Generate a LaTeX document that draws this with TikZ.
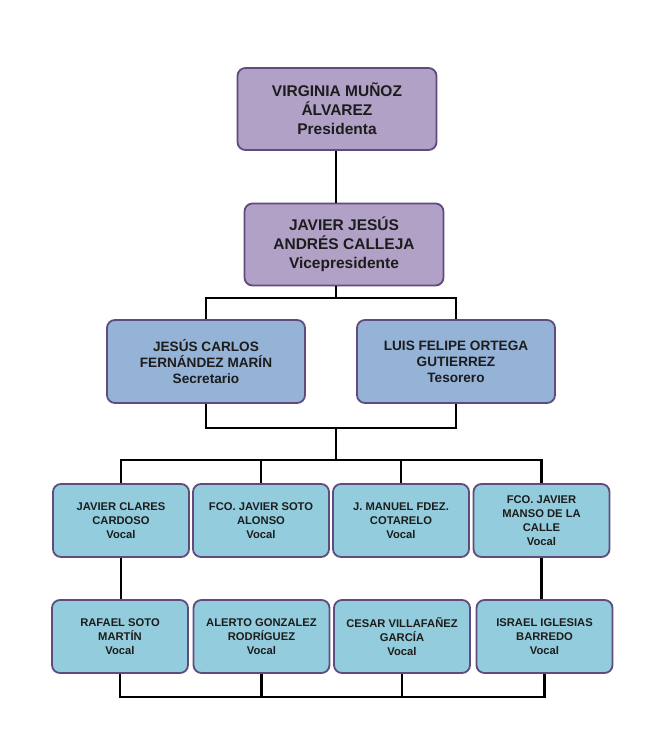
\documentclass[tikz,border=0pt]{standalone}
\usepackage{fontspec}
\setmainfont{Liberation Sans}
\usetikzlibrary{positioning,calc}
\definecolor{lila}{HTML}{B2A1C7}
\definecolor{azul}{HTML}{95B3D7}
\definecolor{turq}{HTML}{93CDDD}
\definecolor{borde}{HTML}{5F4B7E}
\definecolor{texto}{HTML}{1C1C1C}
\begin{document}
\begin{tikzpicture}[x=1pt,y=-1pt,
  caja/.style={draw=borde,line width=1.8pt,rounded corners=8pt,align=center,text=texto,inner sep=2pt},
  c1/.style={caja,fill=lila,minimum width=199pt,minimum height=82pt,font=\bfseries\fontsize{15.5}{19}\selectfont},
  c2/.style={caja,fill=azul,minimum width=198pt,minimum height=83pt,font=\bfseries\fontsize{13.6}{16}\selectfont},
  c3/.style={caja,fill=turq,minimum width=136pt,minimum height=73pt,font=\bfseries\fontsize{11.2}{13.8}\selectfont},
  linea/.style={line width=2.2pt,black}]
\useasboundingbox[fill=white] (0,0) rectangle (659,750);
\node[c1] (pres) at (337,109) {VIRGINIA MUÑOZ\\ÁLVAREZ\\Presidenta};
\node[c1] (vice) at (344,244.5) {JAVIER JESÚS\\ANDRÉS CALLEJA\\Vicepresidente};
\node[c2] (secr) at (206,361.5) {JESÚS CARLOS\\FERNÁNDEZ MARÍN\\Secretario};
\node[c2] (teso) at (456,361.5) {LUIS FELIPE ORTEGA\\GUTIERREZ\\Tesorero};
\node[c3] (v1) at (121,520.5) {JAVIER CLARES\\CARDOSO\\Vocal};
\node[c3] (v2) at (261,520.5) {FCO. JAVIER SOTO\\ALONSO\\Vocal};
\node[c3] (v3) at (401,520.5) {J. MANUEL FDEZ.\\COTARELO\\Vocal};
\node[c3] (v4) at (541.5,520.5) {FCO. JAVIER\\MANSO DE LA\\CALLE\\Vocal};
\node[c3] (v5) at (120,636.5) {RAFAEL SOTO\\MARTÍN\\Vocal};
\node[c3] (v6) at (261.5,636.5) {ALERTO GONZALEZ\\RODRÍGUEZ\\Vocal};
\node[c3] (v7) at (402,636.5) {CESAR VILLAFAÑEZ\\GARCÍA\\Vocal};
\node[c3] (v8) at (544.5,636.5) {ISRAEL IGLESIAS\\BARREDO\\Vocal};
\coordinate (j1) at (336,298);
\coordinate (j2) at (336,428);
\coordinate (j3) at (336,460);
\coordinate (j4) at (336,697);
\draw[linea] (pres.south -| j1) -- (vice.north -| j1);
\draw[linea] (vice.south -| j1) -- (j1);
\draw[linea] (secr.north) |- (j1) -| (teso.north);
\draw[linea] (secr.south) |- (j2) -| (teso.south);
\draw[linea] (j2) -- (j3);
\draw[linea] (v1.north) |- (j3) -| (v4.north);
\draw[linea] (v2.north) -- (v2.north |- j3);
\draw[linea] (v3.north) -- (v3.north |- j3);
\draw[linea] (v1.south) -- (v1.south |- v5.north);
\draw[linea] (v4.south) -- (v4.south |- v8.north);
\draw[linea] (v5.south) |- (j4) -| (v8.south);
\draw[linea] (v6.south) -- (v6.south |- j4);
\draw[linea] (v7.south) -- (v7.south |- j4);
\end{tikzpicture}
\end{document}
